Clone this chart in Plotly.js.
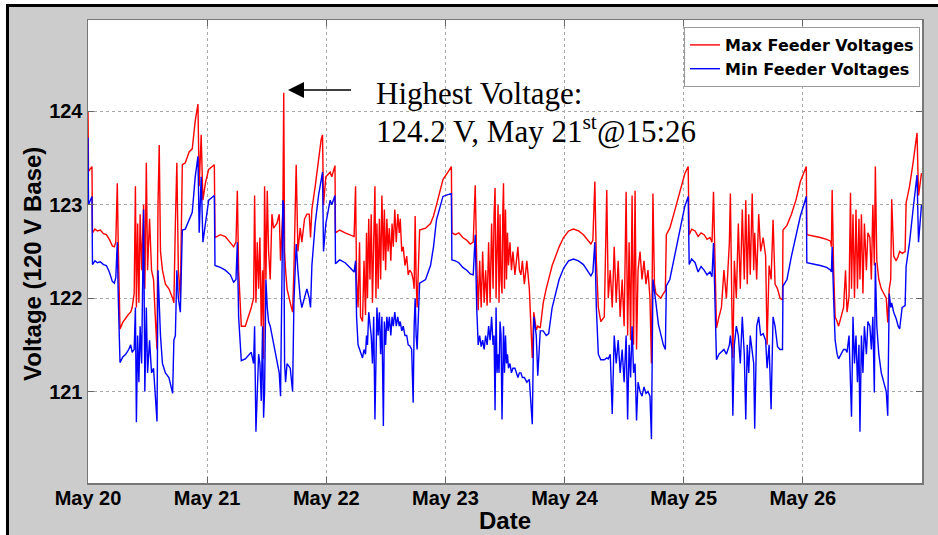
<!DOCTYPE html>
<html><head><meta charset="utf-8">
<script src="https://cdn.plot.ly/plotly-3.0.1.min.js"></script>
<style>html,body{margin:0;padding:0;background:#fff;}#chart{width:938px;height:535px;}</style>
</head><body><div id="chart"></div>
<script>
const seriesNames = ['Max Feeder Voltages', 'Min Feeder Voltages'];
const dayTicks = ['2013-05-20','2013-05-21','2013-05-22','2013-05-23','2013-05-24','2013-05-25','2013-05-26'];
const dayLabels = ['May 20','May 21','May 22','May 23','May 24','May 25','May 26'];
const voltTicks = [121, 122, 123, 124];
const xTitle = 'Date';
const yTitle = 'Voltage (120 V Base)';
const noteLine1 = 'Highest Voltage:';
const noteLine2 = '124.2 V, May 21<sup>st</sup>@15:26';

// hours since May 20 00:00
const hrs = [
 0.00,0.10,0.80,0.90,1.40,1.90,2.50,3.10,3.70,4.30,
 4.90,5.30,5.60,5.90,6.10,6.45,7.00,7.60,8.20,8.60,
 8.90,9.30,9.55,9.75,10.00,10.25,10.50,10.80,11.20,11.45,
 11.75,12.00,12.40,12.80,13.20,13.55,13.90,14.10,14.35,14.60,
 15.00,15.60,16.30,17.05,17.30,17.60,17.90,18.20,18.60,19.00,
 19.60,20.40,21.00,21.60,22.15,22.40,22.80,23.15,23.64,
 24.31,25.45,25.58,26.65,27.66,28.67,29.34,29.81,30.08,30.34,
 30.88,31.68,32.22,32.89,33.36,33.56,33.83,34.10,34.37,34.63,
 34.90,35.17,35.37,35.57,35.84,36.11,36.38,36.71,37.05,37.38,
 38.05,38.52,38.79,39.25,39.43,39.60,39.80,40.10,40.74,41.21,
 41.48,41.94,42.28,42.75,43.08,43.62,44.09,44.56,44.83,45.10,
 45.77,46.44,46.97,47.24,47.44,47.91,48.78,
 49.10,49.75,49.85,50.70,51.80,52.90,53.60,53.90,54.10,54.40,
 54.70,54.90,55.30,55.60,55.90,56.10,56.30,56.55,56.80,57.05,
 57.30,57.55,57.80,58.00,58.20,58.45,58.70,58.95,59.20,59.50,
 59.70,59.95,60.20,60.45,60.70,61.00,61.25,61.50,61.80,62.10,
 62.40,62.70,62.90,63.20,63.50,63.85,64.20,64.50,64.80,65.20,
 65.50,65.70,65.90,66.10,66.30,66.80,68.00,69.00,69.60,70.20,
 71.50,72.50,73.20,73.30,
 74.00,74.70,75.50,76.30,77.00,77.60,78.00,78.30,78.60,78.90,
 79.20,79.50,79.80,80.10,80.40,80.70,81.00,81.30,81.60,81.80,
 82.00,82.20,82.40,82.60,82.80,83.00,83.20,83.40,83.55,83.70,
 83.90,84.10,84.30,84.50,84.70,85.00,85.30,85.60,86.00,86.30,
 86.60,86.90,87.20,87.50,87.90,88.40,88.90,89.50,89.80,90.30,
 90.60,91.10,91.70,92.30,92.80,93.50,94.20,94.90,
 95.80,96.80,97.80,98.80,99.80,100.60,101.30,101.70,102.10,102.40,
 102.80,103.30,104.00,104.50,104.80,105.20,105.60,106.00,106.40,106.80,
 107.20,107.60,108.00,108.40,108.70,109.00,109.30,109.60,109.90,110.20,
 110.50,110.80,111.20,111.60,112.00,112.40,112.80,113.20,113.50,113.80,
 114.10,114.40,114.90,115.40,115.90,116.30,116.50,117.20,118.00,118.80,
 119.50,120.20,120.90,121.10,
 121.60,122.30,122.90,123.50,124.10,124.70,125.30,125.70,126.00,126.30,
 126.60,127.10,127.60,128.10,128.60,129.20,129.40,129.70,129.90,130.20,
 130.60,131.00,131.40,131.80,132.20,132.50,132.80,133.10,133.40,133.80,
 134.10,134.30,134.70,135.10,135.50,136.00,136.50,136.80,137.20,137.60,
 138.00,138.40,138.90,139.40,139.90,140.00,140.80,141.70,142.60,143.50,
 144.20,144.70,144.80,
 146.00,147.50,148.80,149.60,149.75,149.90,150.20,150.50,150.90,151.20,
 151.70,152.20,152.60,152.90,153.30,153.60,153.80,154.10,154.40,154.70,
 155.00,155.30,155.50,155.80,156.10,156.40,156.80,157.10,157.50,157.80,
 158.10,158.40,158.60,158.90,159.30,159.80,160.30,160.80,161.10,161.40,
 161.70,161.90,162.30,162.80,163.20,163.50,164.00,164.60,164.80,165.50,
 166.20,166.80,167.00,167.30,167.90
];

const maxV = [
 124.00,123.36,123.41,122.70,122.74,122.72,122.73,122.69,122.68,122.63,
 122.56,122.55,122.60,123.23,122.55,121.67,121.74,121.79,121.83,121.85,
 121.90,122.05,123.20,121.90,122.80,121.95,122.90,122.30,123.00,122.10,
 123.45,122.30,122.85,122.30,122.20,121.80,121.45,123.00,123.64,122.50,
 122.30,122.15,122.10,122.00,121.95,122.80,123.45,122.30,122.00,123.43,
 123.45,123.57,123.60,123.90,124.08,123.20,123.75,123.05,123.23,
 123.38,123.43,122.65,122.68,122.66,122.60,122.55,122.60,123.15,122.30,
 121.70,121.70,121.78,121.90,122.00,123.10,121.95,122.60,122.10,122.65,
 121.70,122.30,121.35,123.20,122.20,123.15,122.50,122.20,122.90,122.75,
 122.80,122.90,122.40,122.95,124.20,122.50,122.30,122.10,121.95,121.85,
 122.30,123.43,122.50,122.75,122.60,122.85,122.90,122.90,122.65,122.95,
 123.20,123.50,123.70,123.75,123.00,123.30,123.35,
 123.30,123.42,122.70,122.73,122.70,122.68,122.66,123.20,122.20,121.90,
 122.60,121.80,121.75,122.40,121.82,122.70,122.00,122.85,122.20,122.90,
 121.95,122.60,123.20,122.00,122.80,122.10,122.85,122.20,123.10,122.40,
 122.95,122.30,122.85,122.50,122.75,122.40,122.80,122.55,122.95,122.60,
 122.90,122.70,122.85,122.50,122.55,122.35,122.45,122.25,122.30,122.27,
 122.20,122.10,122.88,122.20,121.90,122.73,122.75,122.80,122.88,123.00,
 123.27,123.35,123.41,122.70,
 122.68,122.70,122.65,122.62,122.58,122.60,123.21,122.40,121.87,122.40,
 121.90,122.50,121.95,122.30,121.92,122.60,121.95,122.80,122.10,122.90,
 123.18,122.00,122.70,123.00,121.95,122.90,122.20,122.05,122.90,123.23,
 122.10,122.95,122.20,122.70,122.35,122.60,122.30,122.50,122.25,122.45,
 122.55,122.30,122.25,122.40,122.15,122.40,122.10,121.36,121.85,121.66,
 121.70,121.68,121.95,122.10,122.20,122.35,122.45,122.55,
 122.65,122.72,122.74,122.72,122.68,122.63,122.58,122.62,123.25,122.40,
 121.90,121.75,121.80,123.16,122.00,122.30,121.90,122.55,121.95,122.40,
 121.80,122.20,121.70,123.14,121.60,122.60,121.55,123.10,121.50,123.15,
 121.45,122.30,122.50,122.20,122.40,122.15,122.30,122.00,121.30,123.12,
 122.15,122.05,122.02,122.00,122.05,122.08,122.68,122.75,122.90,123.05,
 123.20,123.33,123.41,122.68,
 122.74,122.72,122.66,122.70,122.68,122.63,122.65,122.60,123.14,122.30,
 121.68,121.80,121.90,122.30,122.00,122.60,123.12,121.90,121.36,122.40,
 122.00,122.80,122.10,122.95,122.20,123.05,122.15,122.90,122.25,123.12,
 122.30,122.70,122.20,122.90,122.50,122.65,122.45,121.50,122.35,122.20,
 122.84,122.15,122.10,122.00,121.98,122.73,122.78,122.90,123.05,123.25,
 123.35,123.41,122.68,
 122.67,122.65,122.63,122.61,122.55,123.16,122.30,121.80,121.75,121.70,
 121.80,121.90,122.30,121.85,122.02,123.13,122.10,122.90,122.00,122.95,
 122.10,122.85,122.20,122.90,122.05,122.80,122.30,122.70,122.65,122.20,
 123.00,122.35,123.41,122.40,122.20,122.10,122.05,122.00,121.74,122.10,
 122.20,123.06,122.45,122.40,122.45,122.50,122.48,122.50,123.02,123.20,
 123.45,123.70,123.77,123.10,123.34
];

const minV = [
 123.72,123.00,123.09,122.36,122.40,122.38,122.39,122.36,122.35,122.28,
 122.18,122.16,122.22,122.60,122.00,121.31,121.37,121.40,121.45,121.50,
 121.42,121.45,121.90,120.67,121.60,121.10,121.70,121.30,122.95,121.00,
 121.90,121.20,121.55,121.20,121.25,121.00,120.68,122.30,121.80,121.60,
 121.30,121.20,121.15,120.98,121.55,121.60,122.30,122.00,121.85,122.73,
 122.74,122.85,122.92,123.30,123.52,122.70,123.30,122.60,122.77,
 123.05,123.10,122.35,122.33,122.30,122.25,122.17,122.20,122.60,121.80,
 121.33,121.35,121.38,121.42,121.30,121.70,120.57,121.10,121.40,121.30,
 120.90,121.70,120.72,121.00,122.20,121.90,121.75,121.70,121.60,121.50,
 121.30,121.20,120.95,123.05,123.00,121.30,121.10,121.30,121.25,121.00,
 121.95,122.58,122.30,122.00,121.90,122.00,122.10,122.00,121.90,122.35,
 122.80,123.10,123.30,123.35,122.50,122.80,123.05,
 123.00,123.10,122.37,122.41,122.38,122.32,122.28,122.40,121.80,121.50,
 121.45,121.40,121.36,121.45,121.40,121.60,121.50,121.85,121.70,121.60,
 121.30,121.80,120.70,121.50,121.90,121.60,121.85,121.40,121.80,120.63,
 121.75,121.50,121.80,121.65,121.80,121.60,121.80,121.70,121.85,121.70,
 121.80,121.70,121.75,121.65,121.70,121.60,121.60,121.50,121.49,121.45,
 120.88,121.70,122.00,121.60,121.45,122.16,122.20,122.35,122.55,122.84,
 123.09,123.11,123.12,122.41,
 122.40,122.38,122.33,122.30,122.26,122.25,122.68,121.90,121.50,121.60,
 121.48,121.55,121.45,121.60,121.50,121.70,121.55,121.80,121.50,121.60,
 120.80,121.90,121.20,121.40,121.20,121.75,121.60,120.70,121.50,121.70,
 121.20,121.60,121.30,121.40,121.25,121.30,121.20,121.25,121.25,121.20,
 121.15,121.20,121.20,121.15,121.15,121.10,121.13,120.65,121.80,121.60,
 121.17,121.65,121.65,121.60,121.62,121.90,122.05,122.20,
 122.32,122.40,122.42,122.40,122.36,122.30,122.24,122.28,122.60,121.90,
 121.40,121.34,121.34,121.36,121.35,121.40,120.76,121.60,121.30,121.55,
 121.20,121.45,121.10,121.60,120.70,121.50,121.15,121.70,121.20,121.30,
 120.69,121.10,121.00,120.95,121.05,120.98,121.00,120.95,120.49,122.20,
 122.10,121.95,121.72,121.60,121.50,121.45,122.13,122.20,122.40,122.60,
 122.80,122.98,123.09,122.36,
 122.42,122.38,122.28,122.34,122.30,122.25,122.28,122.23,122.59,121.80,
 121.34,121.40,121.42,121.45,121.40,121.50,121.60,121.45,120.74,121.50,
 121.70,121.60,121.30,121.80,121.40,120.70,121.50,121.20,121.60,121.40,
 121.30,120.60,121.70,121.80,121.60,121.62,121.55,121.25,121.50,120.81,
 121.80,121.70,121.48,121.45,121.45,122.13,122.20,122.45,122.65,122.88,
 123.00,123.09,122.38,
 122.37,122.35,122.33,122.30,122.28,122.55,122.00,121.55,121.40,121.35,
 121.40,121.45,121.45,121.42,121.60,121.20,120.73,121.80,121.30,121.60,
 121.10,121.50,120.57,121.60,121.20,121.70,121.40,121.75,121.70,121.45,
 121.80,120.99,122.38,121.70,121.40,121.20,121.10,121.00,120.74,122.05,
 121.90,121.95,121.85,121.78,121.70,121.67,121.90,121.92,122.34,122.60,
 122.95,123.25,123.32,122.60,123.00
];

const base = Date.UTC(2013, 4, 20);
const toDate = h => new Date(base + Math.round(h * 3600000)).toISOString().replace('T', ' ').slice(0, 19);
const xs = hrs.map(toDate);

// paper-coordinate helpers (plot area in pixels)
const PL = 88, PR = 922, PT = 20, PB = 483;
const px = v => (v - PL) / (PR - PL);
const py = v => (PB - v) / (PB - PT);

const traces = [
  {x: xs, y: maxV, type: 'scatter', mode: 'lines', name: seriesNames[0],
   line: {color: '#ff0000', width: 1.4}},
  {x: xs, y: minV, type: 'scatter', mode: 'lines', name: seriesNames[1],
   line: {color: '#0000ff', width: 1.4}}
];

const sans = 'Liberation Sans, Arial, sans-serif';
const serif = 'Liberation Serif, Times New Roman, serif';
const axisFont = {family: sans, size: 20, color: '#000', weight: 'bold'};

const layout = {
  width: 938, height: 535,
  margin: {l: PL, r: 938 - PR, t: PT, b: 535 - PB, pad: 0},
  paper_bgcolor: '#cccccc',
  plot_bgcolor: '#ffffff',
  showlegend: true,
  legend: {x: px(920), y: py(27), xanchor: 'right', yanchor: 'top',
    bgcolor: '#ffffff', bordercolor: '#9a9a9a', borderwidth: 1,
    font: {family: 'DejaVu Sans, sans-serif', size: 16, color: '#000', weight: 'bold'},
    tracegroupgap: 0, itemwidth: 30},
  xaxis: {
    type: 'date',
    range: [toDate(0), toDate(168)],
    tickvals: dayTicks, ticktext: dayLabels,
    ticks: 'inside', ticklen: 6, tickcolor: '#666', tickwidth: 1,
    showline: true, linecolor: '#777', linewidth: 1.5, mirror: 'ticks',
    showgrid: true, gridcolor: '#a8a8a8', griddash: 'dot', gridwidth: 1,
    zeroline: false,
    tickfont: axisFont,
    ticklabelstandoff: -4
  },
  yaxis: {
    range: [120.02, 124.98],
    tickvals: voltTicks,
    ticks: 'inside', ticklen: 6, tickcolor: '#666', tickwidth: 1,
    showline: true, linecolor: '#777', linewidth: 1.5, mirror: 'ticks',
    showgrid: true, gridcolor: '#a8a8a8', griddash: 'dot', gridwidth: 1,
    zeroline: false,
    tickfont: axisFont
  },
  shapes: [
    {type: 'rect', xref: 'paper', yref: 'paper', x0: px(0), x1: px(938), y0: py(4), y1: py(0), fillcolor: '#fff', line: {width: 0}},
    {type: 'rect', xref: 'paper', yref: 'paper', x0: px(0), x1: px(6), y0: py(535), y1: py(0), fillcolor: '#fff', line: {width: 0}},
    {type: 'line', xref: 'paper', yref: 'paper', x0: px(6), x1: px(938), y0: py(5.5), y1: py(5.5), line: {color: '#000', width: 3}},
    {type: 'line', xref: 'paper', yref: 'paper', x0: px(7.5), x1: px(7.5), y0: py(535), y1: py(4), line: {color: '#000', width: 3}}
  ],
  annotations: [
    {xref: 'paper', yref: 'paper', x: px(32), y: py(264), textangle: -90, showarrow: false,
     xanchor: 'center', yanchor: 'middle', text: yTitle,
     font: {family: sans, size: 24, color: '#000', weight: 'bold'}},
    {xref: 'paper', yref: 'paper', x: px(505), y: py(520), showarrow: false,
     xanchor: 'center', yanchor: 'middle', text: xTitle,
     font: {family: sans, size: 24, color: '#000', weight: 'bold'}},
    {xref: 'paper', yref: 'paper', x: px(288), y: py(90), ax: 66, ay: 0, text: ' ',
     showarrow: true, arrowhead: 2, arrowsize: 2, arrowwidth: 1.6, arrowcolor: '#000'},
    {xref: 'paper', yref: 'paper', x: px(374), y: py(93), xanchor: 'left', yanchor: 'middle',
     text: noteLine1, showarrow: false,
     font: {family: serif, size: 31, color: '#000'}},
    {xref: 'paper', yref: 'paper', x: px(374), y: py(129), xanchor: 'left', yanchor: 'middle',
     text: noteLine2, showarrow: false,
     font: {family: serif, size: 31, color: '#000'}}
  ]
};

Plotly.newPlot('chart', traces, layout, {displayModeBar: false, staticPlot: true});
</script>
</body></html>
